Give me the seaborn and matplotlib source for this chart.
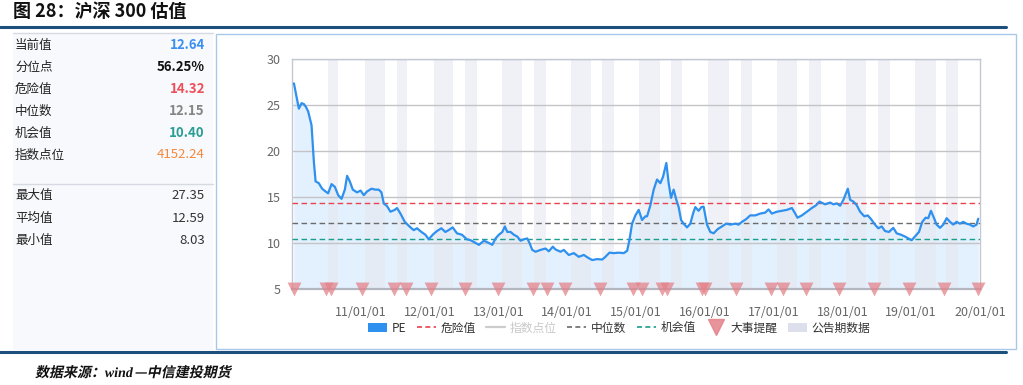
import matplotlib
matplotlib.use("Agg")
import matplotlib.pyplot as plt
import pandas as pd
import seaborn as sns
from matplotlib.patches import Rectangle, Patch, PathPatch
from matplotlib.lines import Line2D
from matplotlib.textpath import TextPath
from matplotlib.font_manager import FontProperties
from matplotlib.transforms import Affine2D

# PE, x as decimal year
pe_year = [2010.028, 2010.100, 2010.139, 2010.173, 2010.202, 2010.235, 2010.284, 2010.318,
           2010.343, 2010.390, 2010.438, 2010.488, 2010.525, 2010.575, 2010.623, 2010.671,
           2010.720, 2010.768, 2010.801, 2010.840, 2010.884, 2010.946, 2010.996, 2011.044,
           2011.091, 2011.155, 2011.213, 2011.261, 2011.300, 2011.334, 2011.382, 2011.431,
           2011.493, 2011.527, 2011.576, 2011.639, 2011.707, 2011.769, 2011.817, 2011.881,
           2011.939, 2011.987, 2012.045, 2012.107, 2012.171, 2012.229, 2012.277, 2012.335,
           2012.398, 2012.470, 2012.543, 2012.597, 2012.669, 2012.717, 2012.790, 2012.862,
           2012.911, 2012.959, 2013.007, 2013.057, 2013.094, 2013.129, 2013.177, 2013.225,
           2013.274, 2013.322, 2013.370, 2013.419, 2013.453, 2013.492, 2013.540, 2013.612,
           2013.685, 2013.733, 2013.791, 2013.830, 2013.903, 2013.951, 2014.023, 2014.096,
           2014.168, 2014.241, 2014.313, 2014.363, 2014.435, 2014.508, 2014.556, 2014.614,
           2014.676, 2014.749, 2014.822, 2014.871, 2014.904, 2014.943, 2014.991, 2015.039,
           2015.088, 2015.136, 2015.161, 2015.209, 2015.257, 2015.306, 2015.354, 2015.393,
           2015.441, 2015.475, 2015.509, 2015.547, 2015.586, 2015.620, 2015.655, 2015.692,
           2015.742, 2015.790, 2015.829, 2015.862, 2015.910, 2015.949, 2015.983, 2016.007,
           2016.032, 2016.080, 2016.128, 2016.186, 2016.250, 2016.312, 2016.370, 2016.443,
           2016.491, 2016.540, 2016.602, 2016.660, 2016.733, 2016.806, 2016.878, 2016.926,
           2016.975, 2017.048, 2017.120, 2017.193, 2017.266, 2017.314, 2017.347, 2017.411,
           2017.483, 2017.556, 2017.618, 2017.666, 2017.749, 2017.822, 2017.869, 2017.919,
           2017.967, 2018.015, 2018.079, 2018.112, 2018.160, 2018.209, 2018.257, 2018.319,
           2018.368, 2018.416, 2018.474, 2018.522, 2018.572, 2018.619, 2018.677, 2018.740,
           2018.789, 2018.852, 2018.910, 2018.958, 2019.007, 2019.055, 2019.113, 2019.161,
           2019.210, 2019.248, 2019.287, 2019.321, 2019.370, 2019.418, 2019.466, 2019.515,
           2019.563, 2019.611, 2019.660, 2019.708, 2019.756, 2019.805, 2019.853, 2019.901,
           2019.950, 2019.974]
pe_value = [27.35, 24.6, 25.2, 25.1, 24.8, 24.3, 22.8, 18.8,
            16.7, 16.5, 15.9, 15.6, 15.4, 16.4, 16.1, 15.2,
            14.8, 15.8, 17.3, 16.7, 15.8, 15.5, 15.7, 15.2,
            15.6, 15.9, 15.8, 15.8, 15.5, 14.3, 14.0, 13.4,
            13.6, 13.8, 13.2, 12.3, 11.8, 11.4, 11.6, 11.2,
            10.9, 10.4, 10.9, 11.3, 11.6, 11.2, 11.4, 11.7,
            11.05, 10.9, 10.4, 10.3, 10.0, 9.8, 10.25, 10.0,
            9.8, 10.5, 10.9, 11.2, 11.8, 11.2, 11.2, 10.9,
            10.7, 10.25, 10.4, 10.5, 10.0, 9.25, 9.05, 9.25,
            9.4, 9.1, 9.6, 9.3, 9.05, 9.25, 8.7, 8.9,
            8.5, 8.7, 8.35, 8.15, 8.25, 8.2, 8.5, 8.95,
            8.9, 8.95, 8.9, 9.15, 10.3, 12.1, 13.0, 13.6,
            12.5, 12.9, 12.9, 14.1, 15.8, 16.9, 16.5, 17.2,
            18.7, 16.5, 14.9, 15.8, 14.7, 13.9, 12.5, 12.1,
            11.7, 12.1, 13.2, 13.9, 13.5, 13.9, 13.95, 13.0,
            12.0, 11.2, 11.05, 11.5, 11.8, 12.1, 12.0, 12.1,
            12.0, 12.3, 12.6, 13.0, 13.0, 13.2, 13.3, 13.65,
            13.2, 13.4, 13.5, 13.6, 13.8, 13.2, 12.75, 13.0,
            13.4, 13.8, 14.1, 14.5, 14.2, 14.4, 14.2, 14.3,
            14.05, 14.7, 15.9, 14.7, 14.5, 14.1, 13.4, 12.9,
            13.0, 12.6, 12.0, 11.6, 11.8, 11.3, 11.2, 11.65,
            11.05, 10.9, 10.7, 10.5, 10.3, 10.7, 11.2, 12.3,
            12.75, 12.7, 13.5, 12.9, 12.0, 11.65, 12.0, 12.7,
            12.3, 12.0, 12.3, 12.1, 12.3, 12.1, 12.0, 11.8,
            12.0, 12.64]

danger_value = 14.32
median_value = 12.15
chance_value = 10.40

# 大事提醒
event_year = [2010.023, 2010.49, 2010.565, 2011.015, 2011.48, 2011.65, 2012.016, 2012.51,
              2013.0, 2013.51, 2013.71, 2013.975, 2014.47, 2014.96, 2015.08, 2015.38,
              2015.456, 2015.96, 2016.007, 2016.457, 2016.965, 2017.14, 2017.47, 2017.95,
              2018.46, 2018.97, 2019.48, 2019.97]

# 公告期数据
band_start = [2010.521, 2011.058, 2011.522, 2012.059, 2012.509, 2013.046, 2013.511,
              2014.048, 2014.512, 2015.049, 2015.514, 2016.051, 2016.530, 2017.052,
              2017.517, 2018.054, 2018.518, 2019.055, 2019.505]
band_end = [2010.666, 2011.348, 2011.668, 2012.335, 2012.684, 2013.337, 2013.685,
            2014.353, 2014.687, 2015.354, 2015.673, 2016.356, 2016.689, 2017.342,
            2017.691, 2018.344, 2018.692, 2019.360, 2019.679]

year_ticks = [2011, 2012, 2013, 2014, 2015, 2016, 2017, 2018, 2019, 2020]
year_labels = ["11/01/01", "12/01/01", "13/01/01", "14/01/01", "15/01/01",
               "16/01/01", "17/01/01", "18/01/01", "19/01/01", "20/01/01"]
y_ticks = [5, 10, 15, 20, 25, 30]

stat_names = ["当前值", "分位点", "危险值", "中位数", "机会值", "指数点位"]
stat_values = ["12.64", "56.25%", "14.32", "12.15", "10.40", "4152.24"]
stat_colors = ["#3a8ff2", "#111111", "#ee4f5b", "#858585", "#2a9d94", "#f5883d"]
stat_bold = [True, True, True, True, True, False]
summary_names = ["最大值", "平均值", "最小值"]
summary_values = ["27.35", "12.59", "8.03"]

BLUE = "#2e90ef"
RED = "#e8434f"
GREY = "#6b6b6b"
TEAL = "#1b9e8e"
TRI = "#e3838a"
BAND = "#e6e8f0"

sns.set_theme(style="white")
plt.rcParams["font.family"] = ["Noto Sans CJK SC", "DejaVu Sans"]
plt.rcParams["axes.unicode_minus"] = False

W, H = 1023, 385
fig = plt.figure(figsize=(W / 100, H / 100), dpi=100)


def fx(x):
    return x / W


def fy(y):
    return 1 - y / H


# title and rules
fig.text(fx(13), fy(11), "图 28：沪深 300 估值", fontsize=13, weight="bold",
         va="center", ha="left", color="#111111")
fig.add_artist(Line2D([0, fx(1006)], [fy(27), fy(27)], color="#1c4f7c", lw=2.2))
fig.add_artist(Line2D([0, fx(1006)], [fy(352), fy(352)], color="#1c4f7c", lw=2.2))

# left stats panel
fig.add_artist(Rectangle((fx(13), fy(350)), 200 / W, 317 / H, transform=fig.transFigure,
                         fc="#f8f9fc", ec="none"))
fig.add_artist(Line2D([fx(13), fx(213)], [fy(33), fy(33)], color="#d7dae2", lw=1))
fig.add_artist(Line2D([fx(13), fx(213)], [fy(184), fy(184)], color="#d7dae2", lw=1))
for i, (name, val) in enumerate(zip(stat_names, stat_values)):
    yy = fy(45 + i * 22)
    fig.text(fx(15), yy, name, fontsize=9, va="center", color="#222222")
    fig.text(fx(205), yy, val, fontsize=9.5, va="center", ha="right", color=stat_colors[i],
             weight="bold" if stat_bold[i] else "normal")
for i, (name, val) in enumerate(zip(summary_names, summary_values)):
    yy = fy(196 + i * 22)
    fig.text(fx(15), yy, name, fontsize=9, va="center", color="#222222")
    fig.text(fx(205), yy, val, fontsize=9.5, va="center", ha="right", color="#333333")

# chart frame
fig.add_artist(Rectangle((fx(215.5), fy(349)), (1016 - 215.5) / W, (349 - 33.5) / H,
                         transform=fig.transFigure, fill=False, ec="#a9c7ea", lw=1))

ax = fig.add_axes([fx(292), fy(289), (980 - 292) / W, (289 - 59) / H])
df = pd.DataFrame({"year": pe_year, "PE": pe_value})

ax.fill_between(df["year"], df["PE"], 5, color="#e3f0fd", lw=0, zorder=1)
for s, e in zip(band_start, band_end):
    ax.axvspan(s, e, color=BAND, alpha=0.6, lw=0, zorder=1.5)
for t in y_ticks[1:]:
    ax.axhline(t, color="#c4c4c8", lw=1, zorder=2)
ax.axhline(danger_value, color=RED, lw=1, ls=(0, (4, 2.5)), zorder=3)
ax.axhline(median_value, color=GREY, lw=1, ls=(0, (4, 2.5)), zorder=3)
ax.axhline(chance_value, color=TEAL, lw=1, ls=(0, (4, 2.5)), zorder=3)
sns.lineplot(data=df, x="year", y="PE", ax=ax, color=BLUE, lw=1.6, estimator=None,
             sort=False, zorder=4)
sns.scatterplot(x=event_year, y=[5] * len(event_year), ax=ax, marker="v", s=100,
                color=TRI, alpha=0.75, linewidth=0, clip_on=False, zorder=5)

ax.set_xlim(2010.0, 2020.0)
ax.set_ylim(5, 30)
ax.set_xticks(year_ticks)
ax.set_xticklabels(year_labels)
ax.set_yticks(y_ticks)
ax.tick_params(axis="both", length=0, labelsize=9, colors="#666666")
ax.tick_params(axis="x", pad=12)
ax.tick_params(axis="y", pad=8)
ax.set_xlabel("")
ax.set_ylabel("")
for side in ["top", "left", "right"]:
    ax.spines[side].set_color("#c4c8d4")
    ax.spines[side].set_linewidth(1)
ax.spines["bottom"].set_color("#b4b6c0")
ax.spines["bottom"].set_linewidth(1.6)
ax.set_facecolor("white")

handles = [
    Patch(fc=BLUE, ec="none"),
    Line2D([], [], color=RED, lw=1.2, ls=(0, (3, 2))),
    Line2D([], [], color="#cccccc", lw=1.6),
    Line2D([], [], color=GREY, lw=1.2, ls=(0, (3, 2))),
    Line2D([], [], color=TEAL, lw=1.2, ls=(0, (3, 2))),
    Line2D([], [], color=TRI, lw=0, marker="v", markersize=11, alpha=0.85),
    Patch(fc="#dde0ec", ec="none"),
]
labels = ["PE", "危险值", "指数点位", "中位数", "机会值", "大事提醒", "公告期数据"]
leg = fig.legend(handles, labels, loc="center", bbox_to_anchor=(fx(619), fy(328)), ncol=7,
                 frameon=False, fontsize=8.5, handlelength=1.6, handleheight=0.9,
                 columnspacing=0.9, handletextpad=0.4)
for txt in leg.get_texts():
    txt.set_color("#333333")
leg.get_texts()[2].set_color("#c8c8c8")

# source line, slanted like the reference
cjk = FontProperties(family="Noto Sans CJK SC", weight="bold")
serif = FontProperties(family="Liberation Serif", weight="bold", style="italic")
parts = [("数据来源：", cjk, 12, 9), ("wind", serif, 0, 1), ("—中信建投期货", cjk, 12, 0)]
x0 = 35
for s, fp, skew, gap in parts:
    tp = TextPath((0, 0), s, size=14, prop=fp)
    tr = Affine2D().skew_deg(skew, 0).translate(x0, 8)
    fig.add_artist(PathPatch(tp, transform=tr, fc="#111111", ec="none"))
    x0 += tp.get_extents().x1 + gap

fig.savefig("out.png", dpi=100)
